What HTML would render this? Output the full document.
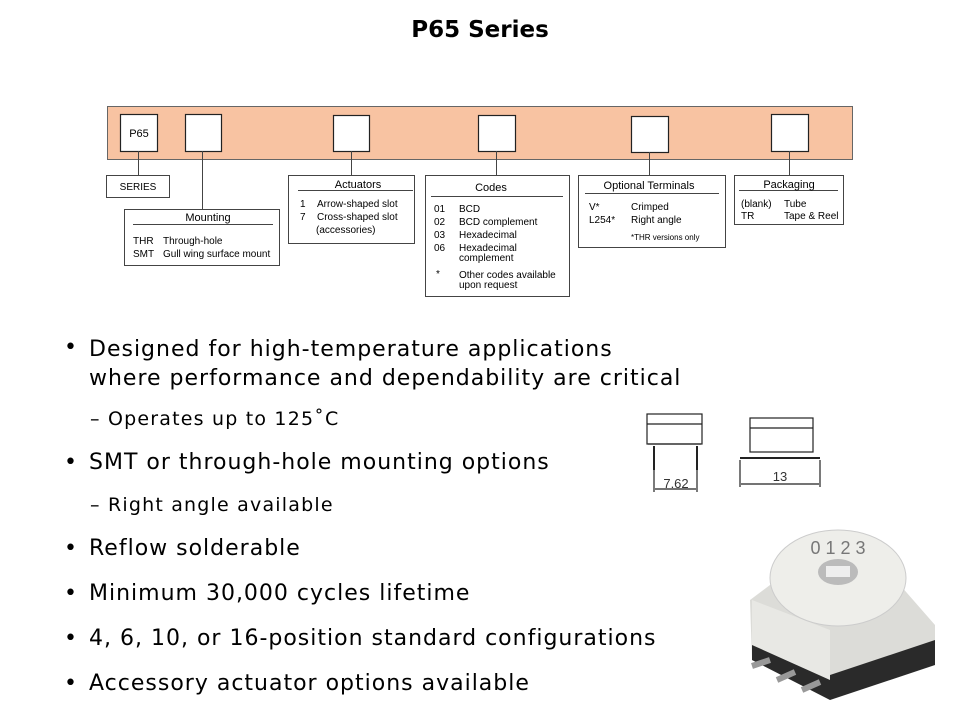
<!DOCTYPE html>
<html><head><meta charset="utf-8"><style>
body{margin:0;width:960px;height:720px;background:#fff;position:relative;overflow:hidden;font-family:"DejaVu Sans",sans-serif;}
.t{position:absolute;white-space:nowrap;color:#000;}
.b{font-size:22px;letter-spacing:1px;}
.s{font-size:19px;letter-spacing:1.2px;}
</style></head><body>
<div class="t" style="left:0;width:960px;text-align:center;top:17px;font-size:23px;font-weight:bold;">P65 Series</div>
<svg width="960" height="720" style="position:absolute;left:0;top:0" font-family="Liberation Sans, sans-serif" font-size="10">
<rect x="107.5" y="106.5" width="745" height="53" fill="#f8c3a2" stroke="#666"/>
<g fill="#fff" stroke="#222" stroke-width="1.2">
<rect x="120.5" y="114.5" width="37" height="37"/>
<rect x="185.5" y="114.5" width="36" height="37"/>
<rect x="333.5" y="115.5" width="36" height="36"/>
<rect x="478.5" y="115.5" width="37" height="36"/>
<rect x="631.5" y="116.5" width="37" height="36"/>
<rect x="771.5" y="114.5" width="37" height="37"/>
</g>
<g stroke="#444" fill="none">
<line x1="138.5" y1="151" x2="138.5" y2="175"/>
<line x1="202.5" y1="151" x2="202.5" y2="209"/>
<line x1="351.5" y1="151" x2="351.5" y2="175"/>
<line x1="496.5" y1="151" x2="496.5" y2="175"/>
<line x1="649.5" y1="152" x2="649.5" y2="175"/>
<line x1="789.5" y1="151" x2="789.5" y2="175"/>
<rect x="106.5" y="175.5" width="63" height="22"/>
<rect x="124.5" y="209.5" width="155" height="56"/>
<rect x="288.5" y="175.5" width="126" height="68"/>
<rect x="425.5" y="175.5" width="144" height="121"/>
<rect x="578.5" y="175.5" width="147" height="72"/>
<rect x="734.5" y="175.5" width="109" height="49"/>
<line x1="133" y1="224.5" x2="273" y2="224.5"/>
<line x1="298" y1="190.5" x2="413" y2="190.5"/>
<line x1="431" y1="196.5" x2="563" y2="196.5"/>
<line x1="585" y1="193.5" x2="719" y2="193.5"/>
<line x1="739" y1="190.5" x2="838" y2="190.5"/>
</g>
<text x="139" y="137" text-anchor="middle" font-size="11">P65</text>
<text x="138" y="190" text-anchor="middle">SERIES</text>
<text x="208" y="221" text-anchor="middle" font-size="11">Mounting</text>
<text x="133" y="244">THR</text><text x="163" y="244">Through-hole</text>
<text x="133" y="257">SMT</text><text x="163" y="257">Gull wing surface mount</text>
<text x="358" y="188" text-anchor="middle" font-size="11">Actuators</text>
<text x="300" y="207">1</text><text x="317" y="207">Arrow-shaped slot</text>
<text x="300" y="220">7</text><text x="317" y="220">Cross-shaped slot</text>
<text x="316" y="233">(accessories)</text>
<text x="491" y="191" text-anchor="middle" font-size="11">Codes</text>
<text x="434" y="212">01</text><text x="459" y="212">BCD</text>
<text x="434" y="225">02</text><text x="459" y="225">BCD complement</text>
<text x="434" y="238">03</text><text x="459" y="238">Hexadecimal</text>
<text x="434" y="251">06</text><text x="459" y="251">Hexadecimal</text>
<text x="459" y="261">complement</text>
<text x="436" y="277">*</text><text x="459" y="278">Other codes available</text>
<text x="459" y="288">upon request</text>
<text x="649" y="189" text-anchor="middle" font-size="11">Optional Terminals</text>
<text x="589" y="210">V*</text><text x="631" y="210">Crimped</text>
<text x="589" y="223">L254*</text><text x="631" y="223">Right angle</text>
<text x="631" y="240" font-size="8">*THR versions only</text>
<text x="789" y="188" text-anchor="middle" font-size="11">Packaging</text>
<text x="741" y="207">(blank)</text><text x="784" y="207">Tube</text>
<text x="741" y="219">TR</text><text x="784" y="219">Tape &amp; Reel</text>
<g stroke="#222" fill="none" stroke-width="1.2">
<rect x="647" y="414" width="55" height="30"/><line x1="647" y1="424" x2="702" y2="424"/>
<line x1="648" y1="444" x2="701" y2="444"/>
<line x1="654" y1="446" x2="654" y2="470" stroke-width="2"/><line x1="697" y1="446" x2="697" y2="470" stroke-width="2"/>
<line x1="654" y1="470" x2="654" y2="492"/><line x1="697" y1="470" x2="697" y2="492"/>
<line x1="655" y1="489" x2="696" y2="489"/>
<rect x="750" y="418" width="63" height="34"/><line x1="750" y1="428" x2="813" y2="428"/>
<line x1="740" y1="458" x2="820" y2="458" stroke-width="2"/>
<line x1="740" y1="460" x2="740" y2="487"/><line x1="820" y1="460" x2="820" y2="487"/>
<line x1="741" y1="484" x2="819" y2="484"/>
</g>
<text x="676" y="488" text-anchor="middle" font-size="13" fill="#333">7.62</text>
<text x="780" y="481" text-anchor="middle" font-size="13" fill="#333">13</text>
<polygon points="750,600 790,570 900,585 935,625 935,665 830,700 752,660" fill="#dcdcd8"/>
<polygon points="752,640 830,675 935,640 935,665 830,700 752,660" fill="#2a2a2a"/>
<polygon points="752,600 830,630 830,680 752,645" fill="#e8e8e4"/>
<g stroke="#999" stroke-width="6"><line x1="770" y1="660" x2="752" y2="666"/><line x1="795" y1="672" x2="777" y2="680"/><line x1="820" y1="682" x2="802" y2="690"/></g>
<ellipse cx="838" cy="578" rx="68" ry="48" fill="#eeeeea" stroke="#ccc"/>
<ellipse cx="838" cy="572" rx="20" ry="13" fill="#bbb"/>
<rect x="826" y="566" width="24" height="11" fill="#eee"/>
<text x="838" y="554" text-anchor="middle" font-size="18" fill="#777">0 1 2 3</text>
</svg>
<div class="t b" style="left:64px;top:335px">•</div>
<div class="t b" style="left:89px;top:335px;line-height:29px">Designed for high-temperature applications<br>where performance and dependability are critical</div>
<div class="t s" style="left:90px;top:408px">–&nbsp;Operates up to 125˚C</div>
<div class="t b" style="left:64px;top:450px">•</div><div class="t b" style="left:89px;top:450px">SMT or through-hole mounting options</div>
<div class="t s" style="left:90px;top:494px">–&nbsp;Right angle available</div>
<div class="t b" style="left:64px;top:536px">•</div><div class="t b" style="left:89px;top:536px">Reflow solderable</div>
<div class="t b" style="left:64px;top:581px">•</div><div class="t b" style="left:89px;top:581px">Minimum 30,000 cycles lifetime</div>
<div class="t b" style="left:64px;top:626px">•</div><div class="t b" style="left:89px;top:626px">4, 6, 10, or 16-position standard configurations</div>
<div class="t b" style="left:64px;top:671px">•</div><div class="t b" style="left:89px;top:671px">Accessory actuator options available</div>
</body></html>
